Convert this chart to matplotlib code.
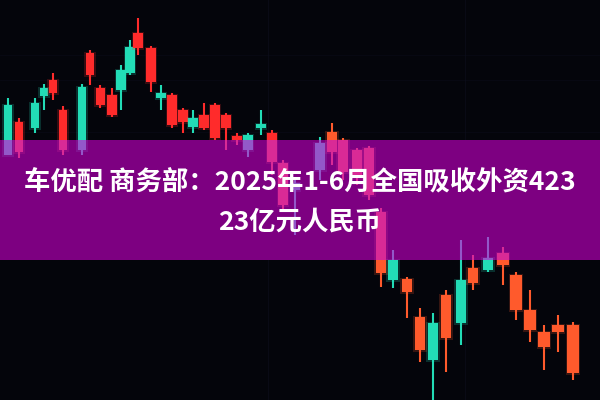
import matplotlib
matplotlib.use('Agg')
import matplotlib.pyplot as plt
from matplotlib.patches import Rectangle

plt.rcParams['font.family'] = ['Noto Sans CJK SC', 'DejaVu Sans']

# candle positions and OHLC (price axis 0..400)
xs = [8, 19, 35, 44, 53, 63, 82, 90, 100, 112, 121, 130, 138, 151, 161, 172,
      183, 193, 204, 215, 226, 237, 248, 261, 272, 283, 295, 320, 332, 343,
      357, 369, 381, 393, 407, 420, 433, 446, 461, 473, 488, 503, 516, 530,
      544, 558, 573]
opens = [245, 278, 272, 304, 320, 290, 250, 347, 312, 305, 310, 327, 367, 352,
         302, 305, 290, 273, 285, 295, 285, 264, 250, 272, 267, 237, 210, 230,
         268, 260, 250, 252, 188, 120, 121, 83, 40, 105, 77, 132, 130, 147,
         125, 90, 68, 75, 75]
closes = [295, 248, 297, 312, 307, 250, 313, 325, 295, 285, 330, 353, 352, 318,
          307, 275, 278, 282, 272, 262, 272, 260, 265, 276, 238, 195, 217, 257,
          248, 228, 222, 205, 127, 140, 108, 50, 77, 62, 120, 117, 142, 135,
          90, 70, 53, 68, 27]
highs = [302, 282, 302, 316, 327, 294, 316, 350, 315, 312, 335, 360, 382, 354,
         315, 307, 292, 290, 297, 297, 287, 267, 267, 290, 270, 240, 222, 263,
         277, 262, 252, 254, 192, 150, 123, 92, 87, 110, 160, 145, 163, 153,
         128, 110, 75, 85, 78]
lows = [245, 242, 267, 290, 300, 245, 245, 315, 292, 283, 290, 325, 345, 308,
        290, 272, 267, 267, 270, 260, 250, 255, 243, 265, 225, 190, 165, 220,
        235, 220, 215, 200, 113, 112, 82, 38, 0, 28, 55, 110, 128, 115, 80,
        58, 30, 48, 20]

title1 = '车优配 商务部：2025年1-6月全国吸收外资423'
title2 = '23亿元人民币'

fig = plt.figure(figsize=(6, 4), dpi=100)
fig.patch.set_facecolor('#04050b')
ax = fig.add_axes([0, 0, 1, 1])
ax.set_facecolor('#04050b')
ax.set_xlim(0, 600)
ax.set_ylim(0, 400)
ax.axis('off')

# very faint background grid
for gx in [268, 465]:
    ax.axvline(gx, color='#0e1020', lw=0.8, alpha=0.5, zorder=0)
for gy in [268, 320, 345]:
    ax.axhline(gy, color='#0d1020', lw=0.6, alpha=0.4, zorder=0)

banner = Rectangle((0, 140), 600, 120, facecolor='#820086', alpha=0.95,
                   edgecolor='none', zorder=3)


def draw_candles(clip=None, inside=False, z=2):
    for x, o, c, h, l in zip(xs, opens, closes, highs, lows):
        up = c > o
        if inside:
            col = '#9b7fe6' if up else '#ff3d9e'
        else:
            if up:
                col = '#22dcb6'
            else:
                col = '#ff2b2b' if x < 300 else '#ff5a2c'
        w = 8.5 + x / 600 * 3
        ln = ax.vlines(x, l, h, color=col, lw=1.5, zorder=z)
        b = ax.bar(x, abs(c - o), width=w, bottom=min(o, c), color=col,
                   edgecolor='none', zorder=z)
        glow = ax.bar(x, abs(c - o) + 3, width=w + 3, bottom=min(o, c) - 1.5,
                      color=col, alpha=0.2, edgecolor='none', zorder=z)
        if clip is not None:
            ln.set_clip_path(clip)
            for p in list(b) + list(glow):
                p.set_clip_path(clip)


draw_candles()
ax.add_patch(banner)
clip_rect = Rectangle((0, 140), 600, 120, transform=ax.transData)
draw_candles(clip=clip_rect, inside=True, z=4)
# re-cover the inside candles partly with the banner tint
ax.add_patch(Rectangle((0, 140), 600, 120, facecolor='#820086', alpha=0.3,
                       edgecolor='none', zorder=5))

ax.text(0.5, 0.5425, title1, transform=ax.transAxes, ha='center',
        va='center', color='white', fontsize=19, fontweight='bold', zorder=6)
ax.text(0.5, 0.445, title2, transform=ax.transAxes, ha='center',
        va='center', color='white', fontsize=19, fontweight='bold', zorder=6)

fig.savefig('out.png', dpi=100, facecolor=fig.get_facecolor())
